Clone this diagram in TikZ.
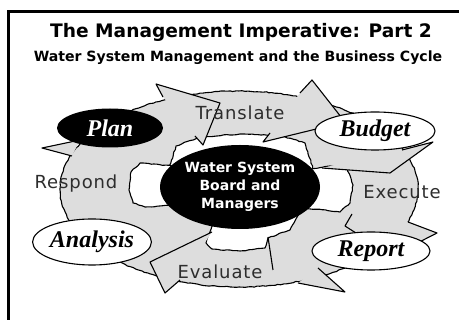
\documentclass[tikz,border=0pt]{standalone}
\usepackage{fontspec}
\setmainfont{DejaVu Sans}
\newfontfamily\labelfont[LetterSpace=5]{DejaVu Sans}
\newfontfamily\stagefont{Liberation Serif}
\usetikzlibrary{shapes.geometric, decorations.pathmorphing}
\definecolor{ringgray}{RGB}{221,221,221}
\definecolor{labelgray}{RGB}{45,45,45}
\tikzset{
  rough/.style={decorate, decoration={random steps, segment length=3pt, amplitude=0.5pt}},
  ringpart/.style={fill=ringgray, draw=black, line width=1.1pt, line join=round},
  gap/.style={fill=white, draw=black, line width=1.1pt, line join=round},
  stagedark/.style={ellipse, fill=black, text=white, inner sep=0pt, font=\stagefont\bfseries\itshape\fontsize{24}{26}\selectfont},
  stagelight/.style={ellipse, fill=white, draw=black, line width=1.1pt, inner sep=0pt, font=\stagefont\bfseries\itshape\fontsize{24}{26}\selectfont},
  steplabel/.style={text=labelgray, inner sep=0pt, font=\labelfont\fontsize{18}{20}\selectfont}
}

\begin{document}
\begin{tikzpicture}[x=1pt, y=-1pt]
\useasboundingbox (0,0) rectangle (459,320);
\draw[line width=2.5pt] (8.5,11.5) rectangle (480,340);

% heading
\node[anchor=base, inner sep=0pt, font=\bfseries\fontsize{18.6}{20}\selectfont] (title) at (241,38) {The Management Imperative: Part 2};
\node[anchor=base, inner sep=0pt, font=\bfseries\fontsize{14.1}{16}\selectfont] (subtitle) at (238,62) {Water System Management and the Business Cycle};

% the cycle band
\path[ringpart, rough] (239,189) ellipse [x radius=179pt, y radius=98pt];

% white openings round the centre
\path[gap, rough] (168,172) -- (176,146) -- (200,137) -- (240,134) -- (282,136) -- (305,143) -- (314,172) -- cycle;
\path[gap, rough] (175,166) -- (140,163) -- (131,172) -- (129,190) -- (133,203) -- (145,207) -- (175,205) -- cycle;
\path[gap, rough] (305,170) -- (330,166) -- (347,168) -- (353,185) -- (350,203) -- (340,212) -- (305,208) -- cycle;
\path[gap, rough] (212,226) -- (206,243) -- (212,249) -- (240,251) -- (265,248) -- (268,238) -- (290,230) -- (300,212) -- (240,215) -- cycle;

% arrow heads along the band
\path[ringpart] (163,97) -- (156,84) -- (220,103) -- (203,145) -- (195,136);
\path[ringpart] (300,93) -- (312,80) -- (345,122) -- (263,142) -- (270,133);
\path[ringpart] (408,222) -- (437,233) -- (392,256) -- (345,226) -- (352,214);
\path[ringpart] (212,232) -- (150,262) -- (165,293) -- (180,280);
\path[ringpart] (72,156) -- (42,148) -- (80,140);
\path[ringpart] (402,150) -- (433,142) -- (390,173) -- (322,168);
\path[ringpart] (318,268) -- (345,292) -- (298,283);
\draw[line width=1.1pt] (268,237) -- (273,270);

% step labels
\node[steplabel] (translate) at (240,113) {Translate};
\node[steplabel] (execute) at (402,192) {Execute};
\node[steplabel] (evaluate) at (220,272) {Evaluate};
\node[steplabel] (respond) at (76,184) {Respond};

% stages
\node[stagedark, minimum width=106pt, minimum height=39pt] (plan) at (110,128) {Plan};
\node[stagelight, minimum width=120pt, minimum height=38pt] (budget) at (375,131) {Budget};
\node[stagelight, minimum width=114pt, minimum height=46pt] (analysis) at (92,242) {Analysis};
\node[stagelight, minimum width=118pt, minimum height=38pt] (report) at (371,251) {Report};

% board in the middle
\node[ellipse, fill=black, text=white, minimum width=160pt, minimum height=84pt, inner sep=0pt,
  align=center, font=\bfseries\fontsize{14}{18}\selectfont] (board) at (240,187) {Water System\\Board and\\Managers};
\end{tikzpicture}
\end{document}
